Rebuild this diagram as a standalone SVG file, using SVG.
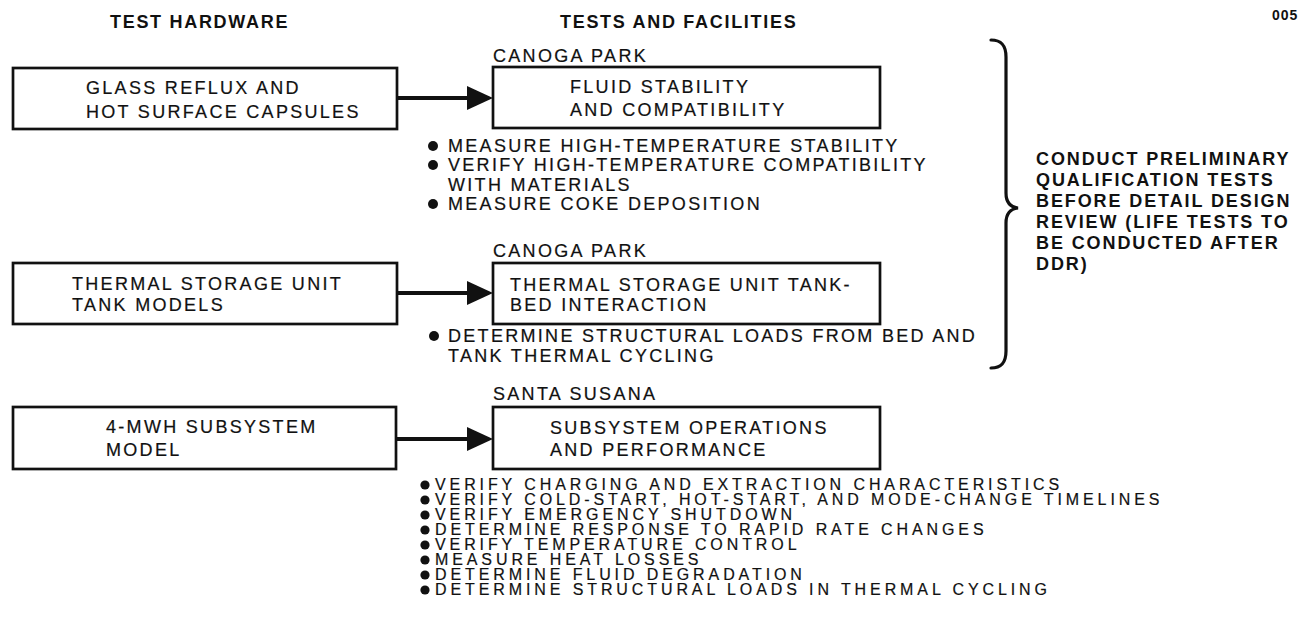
<svg xmlns="http://www.w3.org/2000/svg" width="1301" height="643" viewBox="0 0 1301 643">
  <style>
    .box { fill: none; stroke: #111; stroke-width: 2.7; }
    .t { font-family: "Liberation Sans", Arial, sans-serif; font-size: 18px; letter-spacing: 2.3px; fill: #111; stroke: #111; stroke-width: 0.2; }
    .h { font-family: "Liberation Sans", Arial, sans-serif; font-size: 18px; font-weight: bold; letter-spacing: 1.7px; fill: #111; }
    .s { font-family: "Liberation Sans", Arial, sans-serif; font-size: 16px; letter-spacing: 3.9px; fill: #111; stroke: #111; stroke-width: 0.2; }
    .r { font-family: "Liberation Sans", Arial, sans-serif; font-size: 18px; font-weight: bold; letter-spacing: 1.9px; fill: #111; }
    .dot { fill: #111; }
    .conn line { stroke: #111; stroke-width: 4; }
    .conn polygon { fill: #111; }
    .brace { fill: none; stroke: #111; stroke-width: 3.2; stroke-linecap: round; }
  </style>

  <!-- column headings -->
  <text class="h" x="110" y="28">TEST HARDWARE</text>
  <text class="h" x="560" y="28">TESTS AND FACILITIES</text>
  <text class="h" x="1272" y="20" style="font-size:14px;letter-spacing:1px">005</text>

  <!-- test hardware -->
  <g id="hw-capsules">
    <rect class="box" x="13" y="68" width="384" height="61"/>
    <text class="t" x="86" y="94">GLASS REFLUX AND</text>
    <text class="t" x="86" y="118">HOT SURFACE CAPSULES</text>
  </g>
  <g id="hw-tank-models">
    <rect class="box" x="13" y="263" width="384" height="61"/>
    <text class="t" x="72" y="290">THERMAL STORAGE UNIT</text>
    <text class="t" x="72" y="311">TANK MODELS</text>
  </g>
  <g id="hw-subsystem">
    <rect class="box" x="13" y="407" width="383" height="62"/>
    <text class="t" x="106" y="433">4-MWH SUBSYSTEM</text>
    <text class="t" x="106" y="456">MODEL</text>
  </g>

  <!-- tests and facilities -->
  <g id="test-fluid">
    <text class="t" x="493" y="62">CANOGA PARK</text>
    <rect class="box" x="493" y="67" width="387" height="61"/>
    <text class="t" x="570" y="93">FLUID STABILITY</text>
    <text class="t" x="570" y="116">AND COMPATIBILITY</text>
    <circle class="dot" cx="433" cy="146" r="5"/>
    <text class="t" x="448" y="152">MEASURE HIGH-TEMPERATURE STABILITY</text>
    <circle class="dot" cx="433" cy="165" r="5"/>
    <text class="t" x="448" y="171">VERIFY HIGH-TEMPERATURE COMPATIBILITY</text>
    <text class="t" x="448" y="191">WITH MATERIALS</text>
    <circle class="dot" cx="433" cy="204" r="5"/>
    <text class="t" x="448" y="210">MEASURE COKE DEPOSITION</text>
  </g>
  <g id="test-tank-bed">
    <text class="t" x="493" y="257">CANOGA PARK</text>
    <rect class="box" x="493" y="263" width="387" height="61"/>
    <text class="t" x="510" y="291">THERMAL STORAGE UNIT TANK-</text>
    <text class="t" x="510" y="311">BED INTERACTION</text>
    <circle class="dot" cx="434" cy="336" r="5"/>
    <text class="t" x="448" y="342">DETERMINE STRUCTURAL LOADS FROM BED AND</text>
    <text class="t" x="448" y="362">TANK THERMAL CYCLING</text>
  </g>
  <g id="test-subsystem">
    <text class="t" x="493" y="400">SANTA SUSANA</text>
    <rect class="box" x="493" y="407" width="387" height="62"/>
    <text class="t" x="550" y="434">SUBSYSTEM OPERATIONS</text>
    <text class="t" x="550" y="456">AND PERFORMANCE</text>
    <g>
      <circle class="dot" cx="425" cy="485" r="4.6"/>
      <text class="s" x="435" y="490">VERIFY CHARGING AND EXTRACTION CHARACTERISTICS</text>
      <circle class="dot" cx="425" cy="500" r="4.6"/>
      <text class="s" x="435" y="505">VERIFY COLD-START, HOT-START, AND MODE-CHANGE TIMELINES</text>
      <circle class="dot" cx="425" cy="515" r="4.6"/>
      <text class="s" x="435" y="520">VERIFY EMERGENCY SHUTDOWN</text>
      <circle class="dot" cx="425" cy="530" r="4.6"/>
      <text class="s" x="435" y="535">DETERMINE RESPONSE TO RAPID RATE CHANGES</text>
      <circle class="dot" cx="425" cy="545" r="4.6"/>
      <text class="s" x="435" y="550">VERIFY TEMPERATURE CONTROL</text>
      <circle class="dot" cx="425" cy="560" r="4.6"/>
      <text class="s" x="435" y="565">MEASURE HEAT LOSSES</text>
      <circle class="dot" cx="425" cy="575" r="4.6"/>
      <text class="s" x="435" y="580">DETERMINE FLUID DEGRADATION</text>
      <circle class="dot" cx="425" cy="590" r="4.6"/>
      <text class="s" x="435" y="595">DETERMINE STRUCTURAL LOADS IN THERMAL CYCLING</text>
    </g>
  </g>

  <!-- hardware to test arrows -->
  <g id="connectors" class="conn">
    <line x1="397" y1="98" x2="470" y2="98"/>
    <polygon points="467,86 493,98 467,110"/>
    <line x1="397" y1="293" x2="470" y2="293"/>
    <polygon points="467,281 493,293 467,305"/>
    <line x1="396" y1="439" x2="470" y2="439"/>
    <polygon points="467,427 493,439 467,451"/>
  </g>

  <!-- brace grouping the first two test series -->
  <g id="qualification-note">
    <path class="brace" d="M 991 40 C 1001 40, 1006 45, 1006 57 L 1006 193 C 1006 202, 1010 207, 1018 208 C 1010 209, 1006 214, 1006 223 L 1006 351 C 1006 363, 1001 368, 991 368"/>
    <text class="r" x="1036" y="165">CONDUCT PRELIMINARY</text>
    <text class="r" x="1036" y="186">QUALIFICATION TESTS</text>
    <text class="r" x="1036" y="207">BEFORE DETAIL DESIGN</text>
    <text class="r" x="1036" y="228">REVIEW (LIFE TESTS TO</text>
    <text class="r" x="1036" y="249">BE CONDUCTED AFTER</text>
    <text class="r" x="1036" y="270">DDR)</text>
  </g>
</svg>
